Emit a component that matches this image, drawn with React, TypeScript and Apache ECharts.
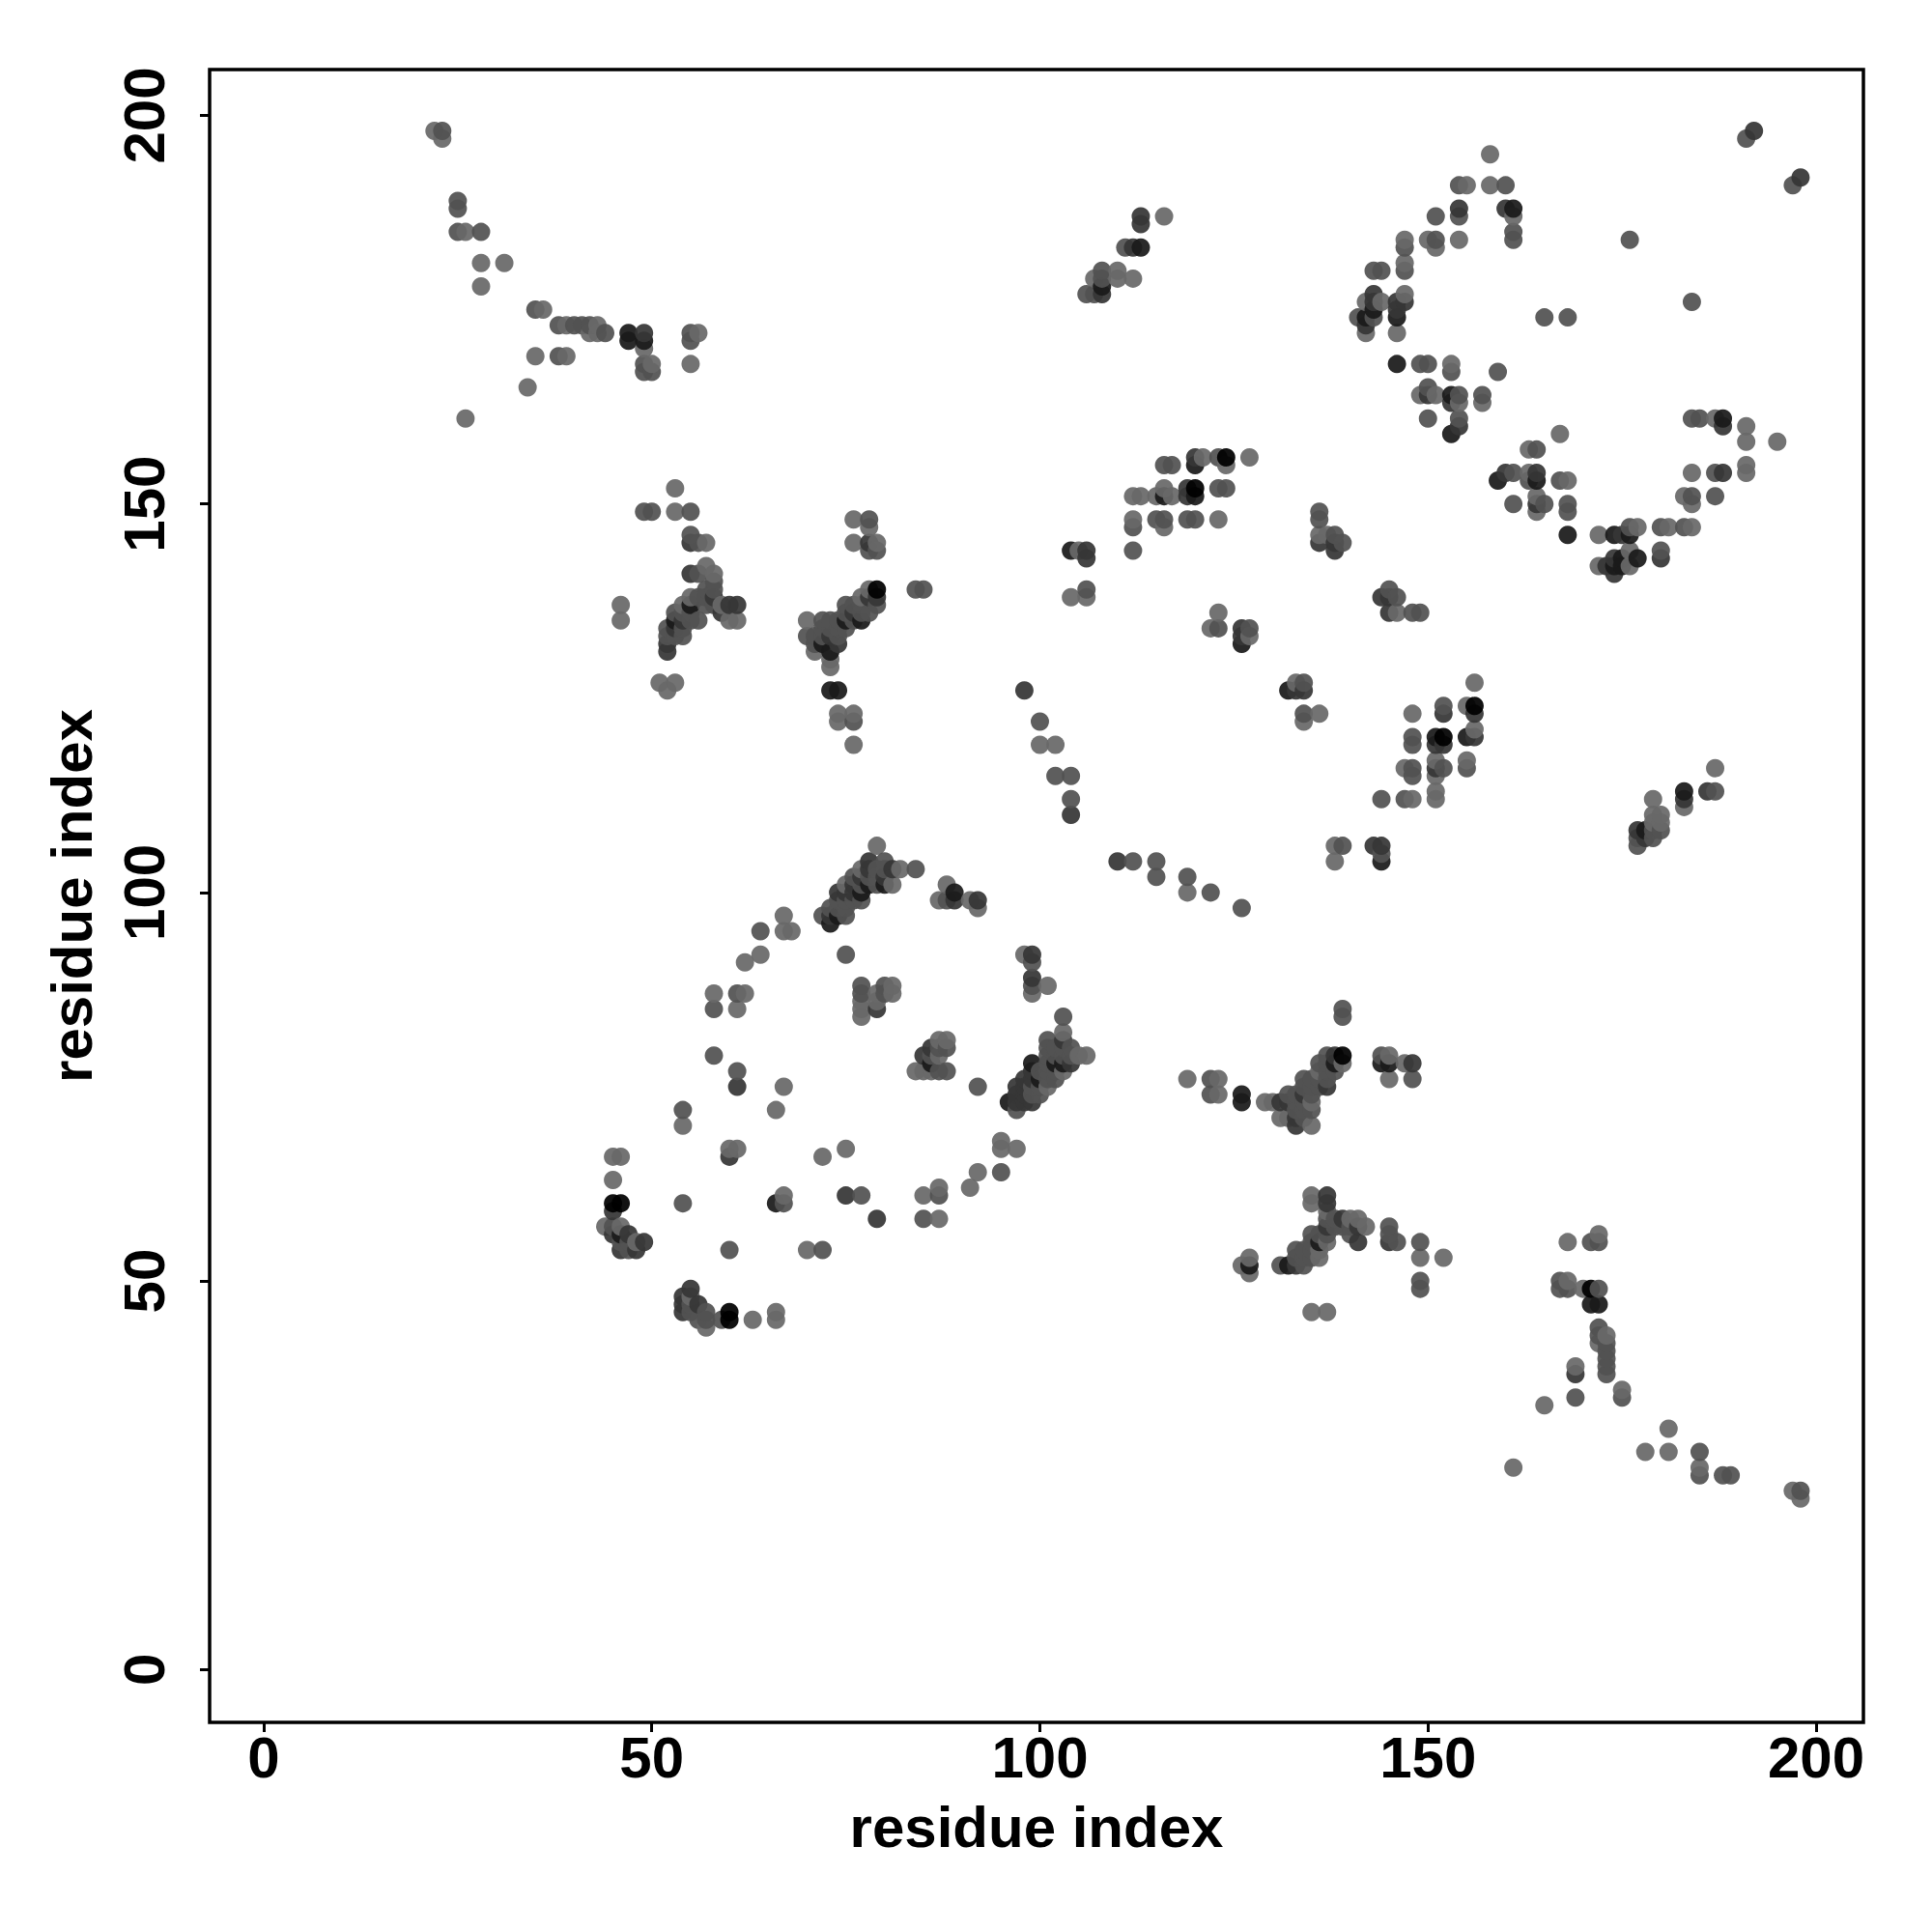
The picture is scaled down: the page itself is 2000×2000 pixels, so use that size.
import React, { useEffect, useRef } from "react";
import * as echarts from "echarts";

type P = [number, number];

const axisTitle = "residue index";
const tickValues = [0, 50, 100, 150, 200];

// Contacts grouped by how dark a single dot is drawn
const lightContacts: P[] = [
  [22,198],[23,197],[26,185],[28,181],[31,181],[28,178],[36,175],[39,173],[43,173],[42,172],[43,172],[49,170],[50,168],[56,172],[55,168],[35,169],[39,169],[34,165],[26,161],
  [53,152],[53,149],[57,145],[57,142],[58,141],[46,137],[46,135],[60,135],[61,135],[51,127],[53,127],[52,126],[59,137],[54,137],[55,138],
  [70,135],[71,131],[76,148],[78,147],[76,145],[79,145],[73,129],[73,130],[74,123],[76,123],[76,119],[74,122],[77,138],[78,139],
  [79,106],[82,103],[81,101],[75,101],[77,103],[67,97],[67,95],[68,95],[64,92],[62,91],[58,87],[62,87],[61,85],[67,75],[66,72],[54,70],[45,66],[46,66],[45,63],[60,67],[61,67],[72,66],[75,67],[87,62],[92,64],[91,62],[95,68],[95,67],[97,67],[67,61],[85,61],[87,58],
  [77,86],[77,85],[77,84],[79,87],[79,86],[81,88],[81,87],[84,77],[85,77],[86,77],[87,81],[87,79],[88,81],
  [88,101],[87,99],[91,99],[92,98],[98,92],[99,87],[101,88],[103,82],[105,79],[106,79],[103,77],[101,75],[44,57],[46,57],[48,55],[70,54],[57,44],[63,45],[66,46],[66,45],[55,48],
  [124,155],[127,156],[121,156],[116,152],[117,151],[115,151],[112,151],[113,151],[112,148],[116,147],[123,148],[105,144],[104,138],[106,138],[123,136],[122,134],[127,133],[136,146],[137,146],[146,136],[133,127],[134,122],[136,123],[156,127],[155,124],[148,123],[156,121],[147,116],[151,117],[151,115],[155,117],[148,112],[151,113],[151,112],[138,106],[138,104],[100,119],[102,119],[119,100],
  [158,195],[155,191],[158,191],[161,187],[147,184],[150,184],[151,183],[154,184],[147,181],[147,177],[142,176],[144,176],[146,172],[142,172],[153,168],[149,164],[151,164],[154,163],[157,163],[167,159],[163,157],[163,154],[168,153],[164,151],[164,149],[172,146],[177,147],[181,147],[184,147],[172,142],[176,144],[176,142],[187,161],[191,160],[191,158],[195,158],[184,154],[191,155],[191,154],[183,151],[184,150],
  [119,76],[123,76],[123,74],[130,73],[129,73],[136,77],[139,78],[135,73],[132,71],[131,71],[135,70],[135,61],[135,60],[137,59],[140,58],[141,58],[142,57],[137,55],[136,54],[136,53],[127,53],[126,52],[127,51],[145,79],[147,78],[145,76],[149,53],[152,53],
  [135,46],[137,46],[168,55],[172,56],[168,50],[170,49],[173,43],[172,42],[169,39],[165,34],[175,36],[161,26],[178,28],[181,31],[181,28],[185,26],[197,23],[198,22],
  [116,187],[110,180],[110,179],[112,179],[107,179],[187,116],[183,111],[179,112],[179,110],[180,110],[179,109],[180,109],
];

const mediumContacts: P[] = [
  [23,198],[25,189],[25,188],[25,185],[28,185],[35,175],[38,173],[40,173],[41,173],[42,173],[44,172],[49,168],[49,167],[50,167],[55,172],[55,171],[38,169],
  [49,149],[50,149],[55,149],[55,146],[56,145],[56,141],[58,140],[58,139],[57,139],[52,134],[52,133],[53,136],[53,133],[54,136],[54,134],[54,133],[55,136],[55,135],[56,138],[56,135],[57,138],[57,137],[58,137],
  [70,133],[71,133],[71,132],[72,135],[72,134],[72,133],[73,135],[73,134],[74,135],[74,134],[74,133],[75,137],[75,136],[75,135],[75,134],[76,137],[76,135],[77,137],[77,136],[78,136],[79,137],[84,139],[85,139],[78,148],[78,144],[79,144],[76,122],
  [84,103],[72,97],[73,98],[74,98],[74,99],[75,99],[75,98],[75,97],[76,102],[76,99],[77,101],[77,99],[78,102],[79,103],[79,102],[79,101],[80,104],[80,103],[81,103],
  [64,95],[75,92],[58,85],[61,87],[58,79],[61,77],[54,72],[87,61],[95,64],[77,61],[85,58],[67,60],[54,60],[77,88],[77,87],[80,87],[80,88],[87,80],[87,77],[88,77],[88,80],[86,79],
  [88,99],[99,91],[99,88],[103,84],[101,81],[101,80],[102,80],[103,80],[104,80],[101,79],[102,79],[103,79],[104,79],[101,78],[102,78],[103,78],[100,77],[101,77],[102,77],[100,76],[101,76],[102,76],[99,75],[100,75],[99,74],[100,74],[97,72],[92,75],
  [45,57],[47,55],[46,55],[47,54],[60,54],[72,54],[55,47],[55,46],[57,46],[56,45],[57,45],[59,45],
  [123,156],[116,155],[117,155],[123,152],[124,152],[112,147],[115,148],[116,148],[119,148],[120,148],[112,144],[106,139],[123,134],[127,134],[136,149],[136,148],[138,146],[139,145],[145,139],[146,138],[148,136],[149,136],[134,127],[134,123],[152,124],[148,120],[148,119],[148,116],[148,115],[152,116],[155,116],[144,112],[147,112],[139,106],[144,105],[100,122],[102,115],[104,115],[104,112],[115,104],[112,104],[115,102],[119,102],[122,100],[126,98],
  [191,197],[197,191],[154,191],[160,191],[154,187],[151,187],[161,185],[161,184],[147,183],[151,184],[176,184],[143,180],[144,180],[147,180],[141,174],[143,174],[165,174],[168,174],[184,176],[149,168],[150,168],[153,167],[159,167],[150,165],[154,164],[157,164],[150,161],[154,161],[164,157],[161,154],[163,153],[167,153],[161,150],[165,150],[168,150],[168,149],[176,147],[180,147],[183,147],[180,144],[184,161],[185,161],[187,154],[184,151],[187,151],
  [139,85],[139,84],[137,79],[136,78],[137,78],[138,77],[137,77],[137,76],[136,76],[135,76],[134,76],[136,75],[135,75],[134,75],[135,74],[133,74],[132,74],[134,73],[133,73],[135,72],[134,72],[133,72],[134,71],[122,76],[122,74],[144,79],[148,76],
  [138,58],[138,57],[139,57],[140,57],[137,58],[137,56],[136,56],[135,56],[140,56],[135,55],[134,54],[135,54],[133,54],[135,53],[134,53],[133,53],[131,52],[134,52],[145,57],[145,56],[146,55],[149,55],[149,50],[149,49],
  [171,55],[172,55],[167,50],[167,49],[168,49],[172,49],[172,44],[172,43],[173,42],[173,41],[173,40],[173,39],[173,38],[169,35],[175,35],[185,28],[185,25],[188,25],[189,25],[198,23],
  [111,183],[108,180],[108,179],[107,177],[106,177],[187,113],[179,108],[180,108],[179,107],[177,107],[177,106],
];

const darkContacts: P[] = [
  [49,172],[55,145],[55,141],[59,136],[52,132],[52,131],[53,134],[54,135],[58,138],[60,137],[61,137],[73,133],[74,132],[76,136],[79,138],[78,145],[78,138],
  [73,97],[74,100],[75,100],[76,100],[76,101],[78,103],[78,104],[81,103],[80,102],[77,102],[79,85],[61,75],[75,61],[79,58],[89,99],[92,99],[99,92],[99,89],[85,79],[86,80],[103,81],[104,78],[99,77],[98,76],[99,76],[97,75],[98,75],[97,74],[98,74],[99,73],[97,73],[98,73],[98,126],[45,59],[45,56],[47,56],[46,54],[48,54],[49,55],[55,49],[54,48],[54,47],[56,47],[54,46],[60,66],
  [120,156],[119,152],[119,151],[106,144],[106,143],[126,134],[126,133],[136,145],[138,145],[138,144],[144,138],[145,138],[145,136],[133,126],[134,126],[152,123],[156,123],[151,119],[152,119],[156,120],[151,116],[143,106],[144,106],[104,110],[110,104],
  [192,198],[198,192],[154,188],[160,188],[147,176],[146,176],[146,175],[143,177],[143,176],[142,173],[150,164],[153,163],[154,160],[160,154],[164,154],[164,150],[175,146],[173,142],[174,143],[174,141],[180,143],[188,160],[188,154],
  [137,75],[134,74],[132,73],[131,73],[133,71],[133,70],[137,61],[137,60],[139,58],[141,57],[137,57],[141,55],[133,52],[138,79],[148,78],[145,55],[169,38],
  [113,187],[113,186],[112,183],[108,177],[186,113],[183,112],[177,108],[178,107],
];

const deepContacts: P[] = [
  [47,172],[47,171],[49,171],[74,126],[73,126],[73,131],[75,135],[77,135],[72,132],[53,135],[55,137],
  [78,101],[80,101],[77,100],[74,97],[73,96],[96,73],[99,78],[100,76],[102,78],[103,78],[86,78],[46,56],[66,60],[89,100],
  [120,155],[120,151],[116,151],[104,144],[126,132],[132,126],[155,120],[151,120],[144,104],[146,168],[146,174],[143,175],[142,174],[161,188],[153,164],[153,159],[159,153],[164,153],[168,146],[174,146],[176,146],[175,143],[177,143],[174,142],[175,142],[188,161],
  [126,74],[126,73],[132,52],[136,55],[127,52],[138,78],[144,78],[145,78],[171,47],[172,47],[183,113],[178,108],[113,183],[108,178],
];

const blackContacts: P[] = [
  [79,139],[45,60],[46,60],[60,46],[60,45],[124,156],[120,152],[156,124],[152,120],[139,79],[171,49],
];

const tierColors = ["#686868", "#525252", "#363636", "#1a1a1a", "#000000"];
const tiers: P[][] = [lightContacts, mediumContacts, darkContacts, deepContacts, blackContacts];

const font = "Liberation Sans";

// One point per position, drawn in order of x then y so later dots lie on top
const seen = new Map<string, [number, number, number]>();
tiers.forEach((list, tier) => list.forEach(([x, y]) => seen.set(`${x},${y}`, [x, y, tier])));
const contacts = [...seen.values()].sort((a, b) => a[0] - b[0] || a[1] - b[1]);

export default function App() {
  const ref = useRef<HTMLDivElement>(null);
  useEffect(() => {
    const chart = echarts.init(ref.current!, undefined, { renderer: "svg" });
    const axisCommon = {
      type: "value" as const,
      name: axisTitle,
      nameLocation: "middle" as const,
      nameTextStyle: { fontFamily: font, fontWeight: "bold" as const, fontSize: 60, color: "#000" },
      axisLine: { show: false, onZero: false },
      axisTick: { show: true, length: 10, lineStyle: { color: "#000", width: 3 }, customValues: tickValues },
      splitLine: { show: false },
    };
    chart.setOption({
      animation: false,
      backgroundColor: "#fff",
      grid: { show: true, left: 217, top: 72, width: 1712, height: 1711, borderColor: "#000", borderWidth: 3.5, backgroundColor: "transparent" },
      xAxis: {
        ...axisCommon,
        min: -6.97,
        max: 206.1,
        nameGap: 78,
        axisLabel: { customValues: tickValues, fontFamily: font, fontWeight: "bold", fontSize: 60, color: "#000", margin: 6 },
      },
      yAxis: {
        ...axisCommon,
        min: -6.8,
        max: 205.9,
        nameGap: 113,
        nameRotate: 90,
        axisLabel: { customValues: tickValues, rotate: 90, fontFamily: font, fontWeight: "bold", fontSize: 60, color: "#000", margin: 38 },
      },
      series: [{
        type: "scatter",
        data: contacts.map(([x, y, tier]) => ({ value: [x, y], itemStyle: { color: tierColors[tier] } })),
        symbol: "circle",
        symbolSize: 19,
        itemStyle: { opacity: 0.93, borderWidth: 0 },
        silent: true,
      }],
    });
    return () => chart.dispose();
  }, []);
  return <div ref={ref} style={{ position: "absolute", left: 0, top: 0, width: 2000, height: 2000 }} />;
}
